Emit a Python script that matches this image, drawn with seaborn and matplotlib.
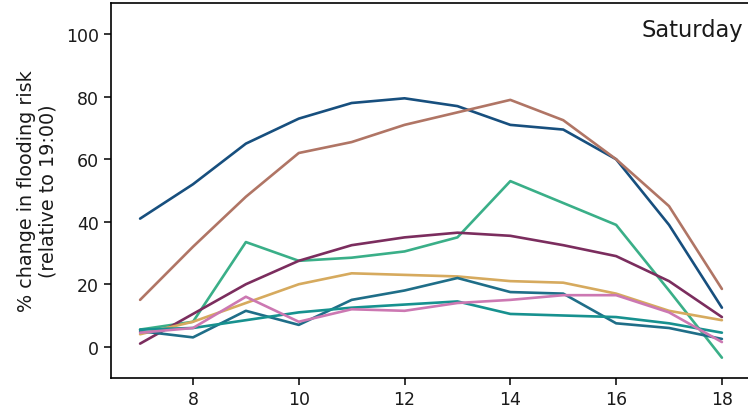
import matplotlib
matplotlib.use("Agg")
import matplotlib.pyplot as plt
import seaborn as sns
import pandas as pd

hours = [7, 8, 9, 10, 11, 12, 13, 14, 15, 16, 17, 18]
s_blue = [41, 52, 65, 73, 78, 79.5, 77, 71, 69.5, 60, 39, 12.5]
s_brown = [15, 32, 48, 62, 65.5, 71, 75, 79, 72.5, 60, 45, 18.5]
s_green = [5.5, 8, 33.5, 27.5, 28.5, 30.5, 35, 53, 46, 39, 18, -3.5]
s_plum = [1, 10.5, 20, 27.5, 32.5, 35, 36.5, 35.5, 32.5, 29, 21, 9.5]
s_gold = [4, 8, 14, 20, 23.5, 23, 22.5, 21, 20.5, 17, 11.5, 8.5]
s_dteal = [5, 3, 11.5, 7, 15, 18, 22, 17.5, 17, 7.5, 6, 2.5]
s_teal = [5.5, 6, 8.5, 11, 12.5, 13.5, 14.5, 10.5, 10, 9.5, 7.5, 4.5]
s_pink = [4.5, 6, 16, 8, 12, 11.5, 14, 15, 16.5, 16.5, 11, 1.5]

series_names = ["blue", "brown", "green", "plum", "gold", "dteal", "teal", "pink"]
series_values = [s_blue, s_brown, s_green, s_plum, s_gold, s_dteal, s_teal, s_pink]
colors = ["#174f7e", "#b07565", "#3aaf88", "#7b2d5e", "#d6aa5e", "#1f6e88", "#17918f", "#cc78b2"]

rows = []
for name, vals in zip(series_names, series_values):
    for h, v in zip(hours, vals):
        rows.append({"hour": h, "value": v, "series": name})
df = pd.DataFrame(rows)

sns.set_style("ticks", {"axes.edgecolor": "black", "text.color": "#1a1a1a",
                        "xtick.color": "black", "ytick.color": "black",
                        "axes.labelcolor": "#1a1a1a"})
plt.rcParams['font.family'] = ['DejaVu Sans']

fig = plt.figure(figsize=(7.48, 4.14), dpi=100)
ax = fig.add_axes([111/748, 35/414, 640/748, 375/414])
sns.lineplot(data=df, x="hour", y="value", hue="series", palette=colors,
             hue_order=series_names, linewidth=1.9, legend=False, ax=ax)
ax.set_xlim(6.45, 18.55)
ax.set_ylim(-10, 110)
ax.set_xticks([8, 10, 12, 14, 16, 18])
ax.set_yticks([0, 20, 40, 60, 80, 100])
ax.tick_params(labelsize=12.5, length=5, width=1.1, labelcolor="#1a1a1a")
for sp in ax.spines.values():
    sp.set_linewidth(1.2)
ax.set_xlabel("")
ax.set_ylabel("% change in flooding risk\n(relative to 19:00)", fontsize=13.8, labelpad=6)
ax.text(0.988, 0.928, "Saturday", transform=ax.transAxes, ha="right", va="center", fontsize=16.3)

fig.savefig("out.png", dpi=100)
